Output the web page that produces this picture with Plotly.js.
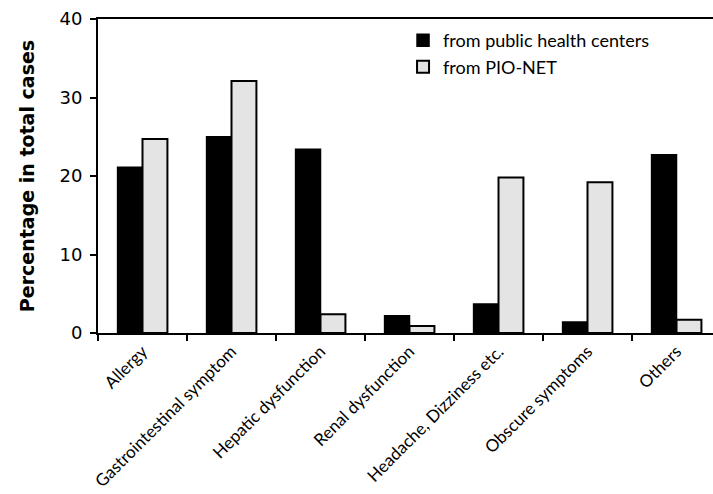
<!DOCTYPE html>
<html><head><meta charset="utf-8">
<script src="https://cdn.plot.ly/plotly-3.0.1.min.js"></script>
<style>html,body{margin:0;padding:0;background:#fff}#chart{width:713px;height:494px}</style>
</head><body><div id="chart"></div>
<script>
const categories = ["Allergy","Gastrointestinal symptom","Hepatic dysfunction","Renal dysfunction","Headache, Dizziness etc.","Obscure symptoms","Others"];
const publicHealth = [21.1, 25.0, 23.4, 2.2, 3.7, 1.4, 22.7];
const pioNet = [24.7, 32.1, 2.4, 0.9, 19.8, 19.2, 1.7];
const seriesNames = ["from public health centers", "from PIO-NET"];
const yTicks = [0, 10, 20, 30, 40];

const traces = [
  {type:'bar', x:categories, y:publicHealth, name:seriesNames[0],
   marker:{color:'#000000', line:{color:'#000000', width:1.5}}},
  {type:'bar', x:categories, y:pioNet, name:seriesNames[1],
   marker:{color:'#e4e4e4', line:{color:'#000000', width:2}}}
];
const layout = {
  width:713, height:494,
  margin:{l:98, r:0, t:19, b:161},
  paper_bgcolor:'#fff', plot_bgcolor:'#fff',
  barmode:'group', bargap:0.44, bargroupgap:0,
  showlegend:true,
  legend:{x:0.496, y:0.99, xanchor:'left', yanchor:'top', bgcolor:'rgba(0,0,0,0)',
    font:{family:'Lato, "Open Sans", sans-serif', size:18, color:'#000'},
    tracegroupgap:0, itemwidth:30},
  xaxis:{type:'category', range:[-0.5, 6.41], tickson:'boundaries',
    ticks:'outside', ticklen:6, tickwidth:2, tickcolor:'#000',
    showline:true, linecolor:'#000', linewidth:2, mirror:true,
    showgrid:false, zeroline:false, tickangle:-45,
    tickfont:{family:'Lato, "Open Sans", sans-serif', size:17, color:'#000'}},
  yaxis:{range:[0,40], tickvals:yTicks, ticks:'outside', ticklen:6, tickwidth:2, tickcolor:'#000',
    showline:true, linecolor:'#000', linewidth:2, showgrid:false, zeroline:false,
    ticklabelstandoff:4,
    tickfont:{family:'"DejaVu Sans", sans-serif', size:18, color:'#000'},
    title:{text:'Percentage in total cases', standoff:20,
      font:{family:'"DejaVu Sans", sans-serif', size:19, color:'#000', weight:'bold'}}}
};
Plotly.newPlot('chart', traces, layout, {displayModeBar:false, staticPlot:true});
</script></body></html>
